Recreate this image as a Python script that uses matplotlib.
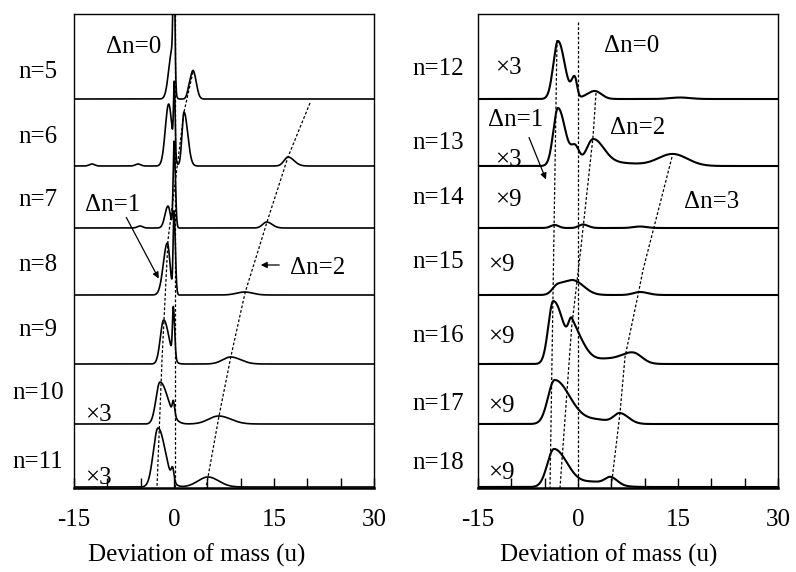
import numpy as np
import matplotlib.pyplot as plt
from matplotlib.ticker import FixedLocator, FixedFormatter

plt.rcParams['font.family'] = ['Liberation Serif', 'DejaVu Serif']

# x axis (deviation of mass, u)
x_lo, x_hi = -15, 30
major_ticks = [-15, 0, 15, 30]
major_labels = ["-15", "0", "15", "30"]
minor_ticks = [-10, -5, 5, 10, 20, 25]

# stacking offsets of the traces, top to bottom
offsets = [389, 322, 260, 193, 124, 64, 1]
left_names = ["n=5", "n=6", "n=7", "n=8", "n=9", "n=10", "n=11"]
right_names = ["n=12", "n=13", "n=14", "n=15", "n=16", "n=17", "n=18"]
left_factor = ["", "", "", "", "", "×3", "×3"]
right_factor = ["×3", "×3", "×9", "×9", "×9", "×9", "×9"]

# peaks: (centre u, height, left width, right width)
peaks_n5 = [(0.0, 130, 0.13, 0.13), (-0.3, 48, 0.5, 0.3), (2.3, 10, 0.3, 0.3), (2.9, 27, 0.35, 0.45)]
peaks_n6 = [(-0.8, 62, 0.5, 0.5), (0.05, 70, 0.12, 0.12), (1.5, 54, 0.3, 0.55),
            (-5.4, 2, 0.4, 0.4), (-12.3, 2, 0.4, 0.4), (17.1, 9, 0.6, 0.9)]
peaks_n7 = [(-0.9, 22, 0.45, 0.35), (0.0, 86, 0.13, 0.2), (-5.1, 2, 0.4, 0.4), (13.9, 6, 0.6, 0.8)]
peaks_n8 = [(-1.0, 52, 0.6, 0.4), (0.0, 82, 0.13, 0.2), (10.6, 3, 1.2, 1.2)]
peaks_n9 = [(-1.55, 44, 0.5, 0.8), (-0.1, 49, 0.13, 0.2), (8.5, 7, 1.2, 1.5)]
peaks_n10 = [(-2.1, 42, 0.6, 1.2), (-0.1, 13, 0.15, 0.2), (6.7, 8, 1.5, 1.8)]
peaks_n11 = [(-2.4, 59, 0.7, 1.1), (-0.2, 12, 0.2, 0.2), (5.1, 10, 1.5, 1.6)]

peaks_n12 = [(-3.0, 58, 0.7, 1.0), (-0.5, 20, 0.45, 0.35), (2.5, 8, 1.2, 1.0), (15.3, 1.5, 1.5, 1.5)]
peaks_n13 = [(-3.0, 58, 0.7, 1.1), (-0.4, 17, 0.6, 0.6), (2.25, 26, 1.0, 1.6),
             (6.0, 3, 2.5, 3.0), (14.2, 12, 2.2, 2.2)]
peaks_n14 = [(-3.5, 3, 0.6, 0.6), (0.7, 3.5, 0.6, 0.8), (9.3, 1.5, 1.0, 1.0)]
peaks_n15 = [(-3.0, 10, 0.8, 1.3), (-0.5, 13, 1.2, 1.5), (9.3, 3, 1.0, 1.2)]
peaks_n16 = [(-3.7, 63, 0.75, 1.6), (-0.9, 32, 0.5, 1.7), (4.5, 5, 2.0, 2.5), (8.3, 10, 1.6, 1.3)]
peaks_n17 = [(-3.5, 44, 1.0, 2.3), (3.0, 4, 2.0, 2.0), (6.3, 10, 0.9, 1.3)]
peaks_n18 = [(-3.6, 38, 1.0, 2.0), (2.5, 5, 2.0, 2.5), (4.9, 7, 0.8, 1.0)]

left_peaks = [peaks_n5, peaks_n6, peaks_n7, peaks_n8, peaks_n9, peaks_n10, peaks_n11]
right_peaks = [peaks_n12, peaks_n13, peaks_n14, peaks_n15, peaks_n16, peaks_n17, peaks_n18]

# dashed guide lines through the peak series
left_dn0_u, left_dn0_y = [0.15, 0.15], [474, 0]
left_dn1_u, left_dn1_y = [2.85, 1.5, -0.9, -1.8, -2.55], [416, 376, 248, 128, 1]
left_dn2_u = [20.4, 17.1, 13.95, 10.65, 8.55, 6.75, 5.1, 4.8]
left_dn2_y = [385, 331, 266, 195, 132, 72, 11, 0]
right_dn0_u, right_dn0_y = [0, 0], [466, 0]
right_dn1_u, right_dn1_y = [-3.15, -4.2], [448, 0]
right_dn2_u, right_dn2_y = [2.7, 2.25, 0.4, -0.95, -2.7], [395, 351, 238, 161, 0]
right_dn3_u = [14.1, 9.75, 9.0, 7.05, 6.3, 5.1, 4.95]
right_dn3_y = [331, 218, 193, 131, 75, 8, 0]

FS = 18


def trace(x, peaks):
    y = np.zeros_like(x)
    for c, h, wl, wr in peaks:
        w = np.where(x < c, wl, wr)
        y += h * np.exp(-0.5 * ((x - c) / w) ** 2)
    return y


def setup(ax, label_x):
    ax.set_xlim(x_lo, x_hi)
    ax.set_ylim(0, 474)
    ax.set_yticks([])
    ax.xaxis.set_major_locator(FixedLocator(major_ticks))
    ax.xaxis.set_major_formatter(FixedFormatter(major_labels))
    ax.xaxis.set_minor_locator(FixedLocator(minor_ticks))
    ax.tick_params(axis='x', which='both', direction='in', length=7, width=1,
                   top=False, pad=15, labelsize=FS)
    for s in ax.spines.values():
        s.set_linewidth(1.0)
    ax.spines['bottom'].set_linewidth(1.8)
    ax.set_xlabel("Deviation of mass (u)", fontsize=FS, labelpad=9)
    ax.xaxis.label.set_x(label_x)


def guide(ax, u, y):
    ax.plot(u, y, color='k', lw=0.9, ls=(0, (2.2, 1.6)))


x = np.linspace(x_lo, x_hi, 3000)
fig = plt.figure(figsize=(7.96, 5.72), dpi=100)
ax1 = fig.add_axes([74 / 796, 84 / 572, 300 / 796, 474 / 572])
ax2 = fig.add_axes([478 / 796, 84 / 572, 300 / 796, 474 / 572])

for ax, peaks, lw, lx in [(ax1, left_peaks, 1.2, 0.41), (ax2, right_peaks, 1.5, 0.435)]:
    setup(ax, lx)
    for off, pk in zip(offsets, peaks):
        ax.plot(x, off + trace(x, pk), color='k', lw=lw)

# left panel guides and labels
guide(ax1, left_dn0_u, left_dn0_y)
guide(ax1, left_dn1_u, left_dn1_y)
guide(ax1, left_dn2_u, left_dn2_y)
left_label_y = [416, 351, 288, 223, 158, 95, 26]
for name, yy in zip(left_names, left_label_y):
    ax1.text(-0.12, yy, name, fontsize=FS, ha='center', va='center',
             transform=ax1.get_yaxis_transform())
for f, yy in zip(left_factor, [0, 0, 0, 0, 0, 73, 10]):
    if f:
        ax1.text(-13.4, yy, f, fontsize=FS, ha='left', va='center')
ax1.text(-6.0, 441, "Δn=0", fontsize=FS, ha='center', va='center')
ax1.text(-9.2, 283, "Δn=1", fontsize=FS, ha='center', va='center')
ax1.annotate("", xy=(-2.1, 207), xytext=(-7.35, 273),
             arrowprops=dict(arrowstyle='-|>', color='k', lw=0.9, mutation_scale=9))
ax1.text(17.4, 220, "Δn=2", fontsize=FS, ha='left', va='center')
ax1.annotate("", xy=(12.6, 223), xytext=(16.2, 223),
             arrowprops=dict(arrowstyle='-|>', color='k', lw=0.9, mutation_scale=9))

# right panel guides and labels
guide(ax2, right_dn0_u, right_dn0_y)
guide(ax2, right_dn1_u, right_dn1_y)
guide(ax2, right_dn2_u, right_dn2_y)
guide(ax2, right_dn3_u, right_dn3_y)
right_label_y = [419, 345, 290, 226, 152, 84, 25]
for name, yy in zip(right_names, right_label_y):
    ax2.text(-0.133, yy, name, fontsize=FS, ha='center', va='center',
             transform=ax2.get_yaxis_transform())
right_factor_u = [-12.45, -12.45, -12.45, -13.5, -13.5, -13.5, -13.5]
right_factor_y = [420, 328, 288, 223, 151, 82, 15]
for f, uu, yy in zip(right_factor, right_factor_u, right_factor_y):
    ax2.text(uu, yy, f, fontsize=FS, ha='left', va='center')
ax2.text(8.1, 442, "Δn=0", fontsize=FS, ha='center', va='center')
ax2.text(-9.3, 368, "Δn=1", fontsize=FS, ha='center', va='center')
ax2.annotate("", xy=(-4.65, 306), xytext=(-7.5, 353),
             arrowprops=dict(arrowstyle='-|>', color='k', lw=0.9, mutation_scale=9))
ax2.text(9.0, 360, "Δn=2", fontsize=FS, ha='center', va='center')
ax2.text(20.1, 286, "Δn=3", fontsize=FS, ha='center', va='center')

fig.savefig("out.png", dpi=100)
